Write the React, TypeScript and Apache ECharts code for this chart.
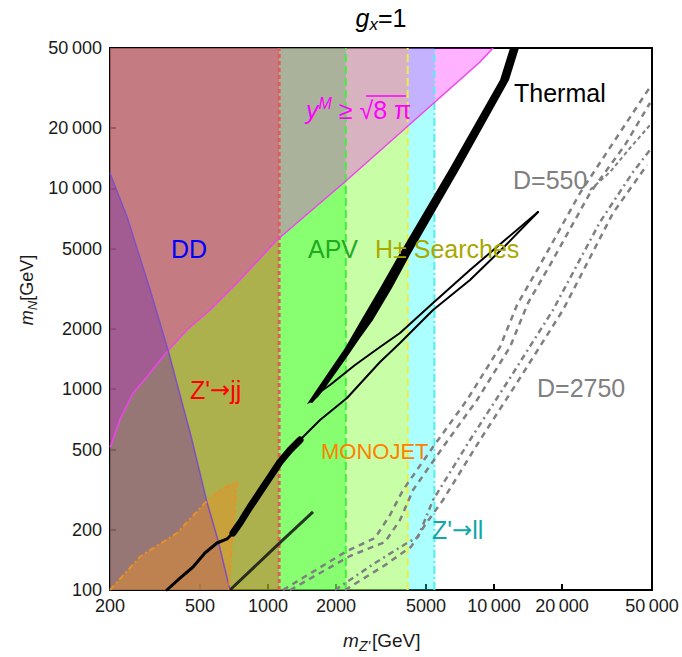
import React, { useEffect, useRef } from "react";
import * as echarts from "echarts";

// ---------- axes ----------
const xTicks = [200, 500, 1000, 2000, 5000, 10000, 20000, 50000];
const yTicks = [100, 200, 500, 1000, 2000, 5000, 10000, 20000, 50000];
const xRange = [200, 50000];
const yRange = [100, 50000];

// ---------- exclusion bands (upper limits in m_Z') ----------
const zjjLimit = 1120;
const apvLimit = 2210;
const hpmLimit = 4150;
const zllLimit = 5450;

// ---------- y^M >= sqrt(8 pi) boundary (m_Z', m_N) ----------
const perturbX = [200, 204, 221, 253, 291, 357, 438, 554, 729, 1096, 2237, 3838, 8671, 9900];
const perturbY = [515, 540, 703, 957, 1150, 1532, 1971, 2480, 3379, 5533, 11008, 18870, 42597, 50000];

// ---------- direct detection boundary ----------
const ddX = [200, 238, 301, 361, 461, 537, 601, 679];
const ddY = [11900, 7202, 3118, 1567, 558, 274, 177, 100];

// ---------- monojet region ----------
const monoX = [200, 271, 301, 396, 526, 613, 729, 714, 693, 672];
const monoY = [100, 146, 158, 192, 271, 315, 345, 259, 177, 100];

// ---------- thermal curves ----------
const thermALowX = [357, 408, 466, 526, 595, 659, 700];
const thermALowY = [100, 114.7, 130.2, 152.9, 171.4, 179.5, 192.2];
const thermAMidX = [700, 752, 833, 922, 1021, 1130, 1252, 1386];
const thermAMidY = [192.2, 215.6, 259, 307.6, 365.3, 434, 498, 558.5];
const thermAHighX = [1386, 1534, 1699, 2237, 3131, 3838, 5372, 7829, 11185, 15657];
const thermAHighY = [558.5, 626, 702.5, 904, 1366, 1698, 2480, 3497, 5164, 7627];
const thermBX = [1566, 1699, 1881, 2427, 3131, 3838, 5372, 7829, 11185, 15657];
const thermBY = [863.5, 968, 1049, 1320, 1622, 1905, 2687, 3922, 5533, 7627];
const thermBandLeftX = [1488, 1615, 1881, 2192, 2554, 3131, 3838, 6386, 10629, 11770];
const thermBandLeftY = [843.9, 968.3, 1246, 1604, 2161, 3190, 4768, 12631, 34643, 50000];
const thermBandRightX = [12898, 11652, 7071, 4292, 3537, 2915, 2554, 2237, 1979, 1788, 1665, 1566];
const thermBandRightY = [50000, 34643, 12631, 4768, 3190, 2211, 1798, 1446, 1190, 1014, 914.5, 863.5];
const thermCX = [679, 1130, 1582];
const thermCY = [100, 172, 245];

// ---------- D contours (grey) ----------
const g1X = [1165, 2237, 2975, 3466, 3957, 5372, 7594, 10629, 12640, 15979, 24016, 34310, 49008];
const g1Y = [100, 156.4, 181.5, 236.3, 314.8, 515.3, 883.6, 1622, 2626, 4153, 9484, 17418, 31977];
const g2X = [1252, 2306, 3294, 3838, 4382, 5947, 8410, 11770, 14140, 17687, 26592, 37982, 49008];
const g2Y = [100, 147.7, 173.4, 223.1, 314.8, 515, 883.6, 1622, 2687, 4153, 9484, 16448, 26617];
const g3X = [26592, 32607, 39970, 49008];
const g3Y = [9814, 12065, 15888, 20683];
const r1X = [1979, 2975, 4122, 4611, 5372, 7829, 11770, 18240, 29446, 41214, 49008];
const r1Y = [100, 136.3, 171.4, 183.6, 280.7, 558.5, 1137, 2480, 6801, 12065, 15533];
const r2X = [2192, 3294, 4292, 4951, 5947, 8671, 13033, 20194, 33612, 47534];
const r2Y = [100, 133, 164, 210.7, 280.7, 558.5, 1137, 2480, 7541, 13077];

const FONT = '"Liberation Sans", Arial, sans-serif';
const ARROW_FONT = '"DejaVu Sans", sans-serif';

const zip = (xs: number[], ys: number[]) => xs.map((x, i) => [x, ys[i]]);

function polySeries(pts: number[][], fill: string, z: number) {
  return {
    type: "custom",
    coordinateSystem: "cartesian2d",
    clip: true,
    silent: true,
    z,
    data: [pts[0]],
    renderItem: (_p: any, api: any) => ({
      type: "polygon",
      shape: { points: pts.map((p) => api.coord(p)) },
      style: { fill, stroke: "none" },
    }),
  };
}

function lineSeries(pts: number[][], color: string, width: number, type: any, z: number, cap = "butt") {
  return {
    type: "line",
    data: pts,
    symbol: "none",
    silent: true,
    clip: true,
    z,
    lineStyle: { color, width, type, cap, join: "round" },
    emphasis: { disabled: true },
  };
}

function band(limit: number) {
  return [
    [xRange[0], yRange[0]],
    [limit, yRange[0]],
    [limit, yRange[1]],
    [xRange[0], yRange[1]],
  ];
}

function fmt(v: number) {
  const n = Math.round(v);
  if (n >= 10000) {
    const s = String(n);
    return s.slice(0, s.length - 3) + "\u2009" + s.slice(s.length - 3);
  }
  return String(n);
}

export default function App() {
  const ref = useRef<HTMLDivElement>(null);
  useEffect(() => {
    if (!ref.current) return;
    const chart = echarts.init(ref.current, null, { renderer: "svg" });

    const perturb = zip(perturbX, perturbY);
    const dd = zip(ddX, ddY);
    const mono = zip(monoX, monoY);

    const axisCommon = {
      type: "log",
      logBase: 10,
      splitLine: { show: false },
      minorTick: { show: false },
      minorSplitLine: { show: false },
    };

    const series: any[] = [
      polySeries(band(zllLimit), "rgba(0,255,255,0.33)", 1),
      polySeries(band(hpmLimit), "rgba(255,255,0,0.35)", 2),
      polySeries(band(apvLimit), "rgba(0,255,0,0.32)", 3),
      polySeries(band(zjjLimit), "rgba(255,0,0,0.31)", 4),
      polySeries([...perturb, [perturbX[perturbX.length - 1], yRange[1]], [xRange[0], yRange[1]]], "rgba(255,0,255,0.3)", 5),
      polySeries([[xRange[0], yRange[0]], [xRange[0], ddY[0]], ...dd, [ddX[ddX.length - 1], yRange[0]]], "rgba(130,62,160,0.5)", 6),
      polySeries(mono, "rgba(235,145,35,0.45)", 7),
      // band edges
      lineSeries([[zjjLimit, yRange[0]], [zjjLimit, yRange[1]]], "#e25a5a", 3, [4, 3], 10),
      lineSeries([[apvLimit, yRange[0]], [apvLimit, yRange[1]]], "#44ee44", 2, [8, 4], 10),
      lineSeries([[hpmLimit, yRange[0]], [hpmLimit, yRange[1]]], "#eeee44", 2, [8, 4], 10),
      lineSeries([[zllLimit, yRange[0]], [zllLimit, yRange[1]]], "#55eeee", 2, [8, 3, 2, 3], 10),
      // region boundaries
      lineSeries(perturb, "#ee44ee", 1.5, "solid", 11),
      lineSeries(dd, "#8050c0", 1.5, "solid", 11),
      lineSeries(mono, "#e8902a", 2, [6, 3, 2, 3], 11),
      // thermal
      polySeries([...zip(thermBandLeftX, thermBandLeftY), ...zip(thermBandRightX, thermBandRightY)], "#000", 12),
      lineSeries(zip(thermALowX, thermALowY), "#000", 3, "solid", 12, "round"),
      lineSeries(zip(thermAMidX, thermAMidY), "#000", 7, "solid", 12, "round"),
      lineSeries(zip(thermAHighX, thermAHighY), "#000", 2, "solid", 12, "round"),
      lineSeries(zip(thermBX, thermBY), "#000", 2, "solid", 12, "round"),
      lineSeries(zip(thermCX, thermCY), "rgba(20,20,20,0.85)", 3, "solid", 12),
      // D contours
      lineSeries(zip(g1X, g1Y), "#808080", 2.5, [6, 5], 13),
      lineSeries(zip(g2X, g2Y), "#808080", 2.5, [6, 5], 13),
      lineSeries(zip(g3X, g3Y), "#808080", 2, [4, 3], 13),
      lineSeries(zip(r1X, r1Y), "#808080", 2.5, [6, 4, 2, 4], 13),
      lineSeries(zip(r2X, r2Y), "#808080", 2.5, [6, 5], 13),
    ];

    const txt = (text: string, x: number, y: number, color: string, size = 25, italic = false) => ({
      type: "text",
      x,
      y,
      z: 100,
      style: {
        text,
        fill: color,
        fontSize: size,
        fontFamily: FONT,
        fontStyle: italic ? "italic" : "normal",
        align: "left",
        verticalAlign: "middle",
      },
    });
    const arrowTxt = (a: string, b: string, x: number, y: number, color: string) => ({
      type: "text",
      x,
      y,
      z: 100,
      style: {
        text: `{t|${a}}{a|\u2192}{t|${b}}`,
        align: "left",
        verticalAlign: "middle",
        rich: {
          t: { fontSize: 25, fontFamily: FONT, fill: color },
          a: { fontSize: 24, fontFamily: ARROW_FONT, fill: color },
        },
      },
    });

    chart.setOption({
      animation: false,
      backgroundColor: "#fff",
      grid: { left: 110, right: 30, top: 48, bottom: 67, containLabel: false, outerBoundsMode: "none", show: false },
      xAxis: [
        {
          ...axisCommon,
          min: xRange[0],
          max: xRange[1],
          position: "bottom",
          axisLine: { show: true, onZero: false, lineStyle: { color: "#000", width: 2 } },
          axisTick: { show: true, inside: true, length: 6, lineStyle: { color: "#000", width: 2 }, customValues: xTicks },
          axisLabel: { show: true, customValues: xTicks, formatter: (v: number) => fmt(v), fontSize: 18, color: "#1a1a1a", fontFamily: FONT, margin: 7 },
        },
        {
          ...axisCommon,
          min: xRange[0],
          max: xRange[1],
          position: "top",
          axisLine: { show: true, onZero: false, lineStyle: { color: "#000", width: 2 } },
          axisTick: { show: false },
          axisLabel: { show: false },
        },
      ],
      yAxis: [
        {
          ...axisCommon,
          min: yRange[0],
          max: yRange[1],
          position: "left",
          axisLine: { show: true, onZero: false, lineStyle: { color: "#000", width: 2 } },
          axisTick: { show: true, inside: true, length: 6, lineStyle: { color: "#000", width: 2 }, customValues: yTicks },
          axisLabel: { show: true, customValues: yTicks, formatter: (v: number) => fmt(v), fontSize: 18, color: "#1a1a1a", fontFamily: FONT, margin: 8 },
        },
        {
          ...axisCommon,
          min: yRange[0],
          max: yRange[1],
          position: "right",
          axisLine: { show: true, onZero: false, lineStyle: { color: "#000", width: 2 } },
          axisTick: { show: false },
          axisLabel: { show: false },
        },
      ],
      series,
      graphic: [
        {
          type: "text",
          x: 381,
          y: 18,
          style: {
            text: "{g|g}{s|x}{n|=1}",
            align: "center",
            verticalAlign: "middle",
            fill: "#000",
            rich: {
              g: { fontSize: 25, fontStyle: "italic", fontFamily: FONT, lineHeight: 30, fill: "#000" },
              s: { fontSize: 17, fontStyle: "italic", fontFamily: FONT, verticalAlign: "bottom", fill: "#000" },
              n: { fontSize: 25, fontFamily: FONT, lineHeight: 30, fill: "#000" },
            },
          },
        },
        txt("m", 343, 640, "#1a1a1a", 19, true),
        txt("Z'", 359, 646, "#1a1a1a", 14, true),
        txt("[GeV]", 372, 640, "#1a1a1a", 19),
        {
          type: "text",
          x: 27,
          y: 290,
          rotation: Math.PI / 2,
          style: {
            text: "{m|m}{s|N}{n|[GeV]}",
            align: "center",
            verticalAlign: "middle",
            rich: {
              m: { fontSize: 18, fontStyle: "italic", fontFamily: FONT, lineHeight: 24, fill: "#1a1a1a" },
              s: { fontSize: 13, fontStyle: "italic", fontFamily: FONT, verticalAlign: "bottom", fill: "#1a1a1a" },
              n: { fontSize: 18, fontFamily: FONT, lineHeight: 24, fill: "#1a1a1a" },
            },
          },
        },
        txt("Thermal", 514, 93, "#000"),
        txt("D=550", 513, 180, "#808080"),
        txt("D=2750", 537, 388, "#808080"),
        txt("DD", 171, 249, "#0000ff"),
        txt("APV", 308, 249, "#1faa1f"),
        txt("H\u00b1 Searches", 375, 249, "#a8a800"),
        arrowTxt("Z'", "jj", 190, 390, "#ff0000"),
        txt("MONOJET", 321, 451, "#ff8000", 22),
        arrowTxt("Z'", "ll", 432, 530, "#10a8a8"),
        {
          type: "text",
          x: 306,
          y: 110,
          z: 100,
          style: {
            text: "{y|y}{m|M}{n| \u2265 \u221a8 \u03c0}",
            align: "left",
            verticalAlign: "middle",
            rich: {
              y: { fontSize: 25, fontStyle: "italic", fontFamily: FONT, lineHeight: 30, fill: "#ff00ff" },
              m: { fontSize: 16, fontStyle: "italic", fontFamily: FONT, verticalAlign: "top", fill: "#ff00ff" },
              n: { fontSize: 25, fontFamily: FONT, lineHeight: 30, fill: "#ff00ff" },
            },
          },
        },
        { type: "line", z: 100, shape: { x1: 366, y1: 96, x2: 406, y2: 96 }, style: { stroke: "#ff00ff", lineWidth: 1.5 } },
      ],
    });
    return () => chart.dispose();
  }, []);
  return <div ref={ref} style={{ position: "fixed", left: 0, top: 0, width: 682, height: 657 }} />;
}
